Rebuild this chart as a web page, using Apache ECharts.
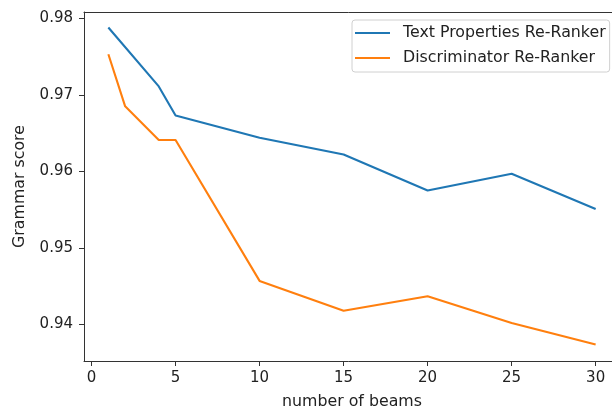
<!DOCTYPE html>
<html>
<head>
<meta charset="utf-8">
<script src="https://cdn.jsdelivr.net/npm/echarts@6/dist/echarts.min.js"></script>
<style>
html,body{margin:0;padding:0;background:#fff;}
#chart{width:612px;height:410px;}
</style>
</head>
<body>
<div id="chart"></div>
<script>
// Data
var seriesNames = ['Text Properties Re-Ranker', 'Discriminator Re-Ranker'];
var textPropsX = [1, 4, 5, 10, 15, 20, 25, 30];
var textPropsY = [0.9788, 0.9711, 0.9673, 0.9644, 0.9622, 0.9575, 0.9597, 0.9551];
var discX = [1, 2, 4, 5, 10, 15, 20, 25, 30];
var discY = [0.9753, 0.9685, 0.9641, 0.9641, 0.9457, 0.9418, 0.9437, 0.9402, 0.9374];
var xTicks = [0, 5, 10, 15, 20, 25, 30];
var yTicks = [0.94, 0.95, 0.96, 0.97, 0.98];
var xLabel = 'number of beams';
var yLabel = 'Grammar score';

function pairs(xs, ys) { return xs.map(function (x, i) { return [x, ys[i]]; }); }

var FONT = 'DejaVu Sans';
var TXT = '#222';
var SPINE = '#333';
var chart = echarts.init(document.getElementById('chart'), null, {renderer: 'canvas'});
chart.setOption({
  animation: false,
  backgroundColor: '#fff',
  grid: {left: 84, top: 12, width: 536, height: 349, containLabel: false, outerBoundsMode: 'none', show: false},
  xAxis: [{
    type: 'value', min: -0.45, max: 31.45,
    name: xLabel, nameLocation: 'middle', nameGap: 33,
    nameTextStyle: {fontFamily: FONT, fontSize: 15.8, color: TXT},
    axisLine: {show: true, onZero: false, lineStyle: {color: SPINE, width: 1}},
    axisTick: {show: true, length: 5, lineStyle: {color: SPINE}, customValues: xTicks},
    axisLabel: {fontFamily: FONT, fontSize: 15, color: TXT, margin: 10, customValues: xTicks},
    splitLine: {show: false}
  }, {
    type: 'value', position: 'top', min: -0.45, max: 31.45,
    axisLine: {show: true, onZero: false, lineStyle: {color: SPINE, width: 1}},
    axisTick: {show: false}, axisLabel: {show: false}, splitLine: {show: false}
  }],
  yAxis: {
    type: 'value', min: 0.93524, max: 0.98082,
    name: yLabel, nameLocation: 'middle', nameGap: 56, nameRotate: 90,
    nameTextStyle: {fontFamily: FONT, fontSize: 15.8, color: TXT},
    axisLine: {show: true, onZero: false, lineStyle: {color: SPINE, width: 1}},
    axisTick: {show: true, length: 5, lineStyle: {color: SPINE}, customValues: yTicks},
    axisLabel: {fontFamily: FONT, fontSize: 15, color: TXT, margin: 11, customValues: yTicks,
      formatter: function (v) { return v.toFixed(2); }},
    splitLine: {show: false}
  },
  legend: {
    orient: 'vertical', left: 352, top: 20,
    padding: [4, 4, 5, 3],
    itemGap: 7, itemWidth: 35, itemHeight: 2,
    icon: 'rect',
    borderColor: '#d0d0d0', borderWidth: 1, borderRadius: 3,
    backgroundColor: 'rgba(255,255,255,0.8)',
    textStyle: {fontFamily: FONT, fontSize: 15.8, color: TXT, lineHeight: 18, padding: [0, 0, 0, 8]},
    data: seriesNames
  },
  series: [
    {name: seriesNames[0], type: 'line', xAxisIndex: 0, data: pairs(textPropsX, textPropsY), showSymbol: false, symbol: 'none',
      lineStyle: {color: '#1f77b4', width: 2.1}, itemStyle: {color: '#1f77b4'}},
    {name: seriesNames[1], type: 'line', xAxisIndex: 0, data: pairs(discX, discY), showSymbol: false, symbol: 'none',
      lineStyle: {color: '#ff7f0e', width: 2.1}, itemStyle: {color: '#ff7f0e'}}
  ]
});
</script>
</body>
</html>
